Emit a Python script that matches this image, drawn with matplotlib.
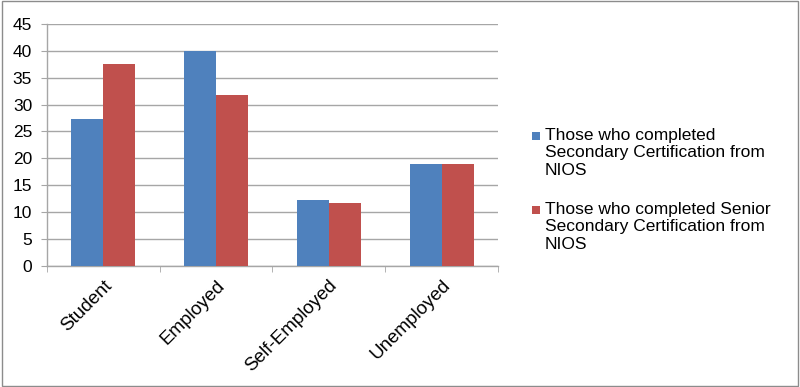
import numpy as np
import matplotlib
matplotlib.use('Agg')
from matplotlib import pyplot as plt, patches as pat

plt.rcParams['font.family'] = ['Liberation Sans', 'DejaVu Sans']

categories = ['Student', 'Employed', 'Self-Employed', 'Unemployed']
secondary = [27.4, 40.0, 12.3, 18.9]
senior = [37.5, 31.7, 11.7, 19.0]
labels = ['Those who completed\nSecondary Certification from\nNIOS',
          'Those who completed Senior\nSecondary Certification from\nNIOS']
colors = ['#4F81BD', '#C0504D']

fig = plt.figure(figsize=(8.0, 3.87), dpi=100)
W, H = 800., 387.
ax = fig.add_axes([46.7/W, 1 - 265.7/H, (498 - 46.7)/W, (265.7 - 24)/H])

x = np.arange(len(categories))
w = 0.284
ax.bar(x - w/2, secondary, w, color=colors[0], zorder=3)
ax.bar(x + w/2, senior, w, color=colors[1], zorder=3)

ax.set_xlim(-0.5, len(categories) - 0.5)
ax.set_ylim(0, 45)
ax.set_yticks(range(0, 46, 5))
ax.yaxis.grid(True, color='#a6a6a6', linewidth=1.0, zorder=0)
ax.set_axisbelow(True)

for s in ['top', 'right']:
    ax.spines[s].set_visible(False)
for s in ['left', 'bottom']:
    ax.spines[s].set_color('#a6a6a6')
    ax.spines[s].set_linewidth(1.0)

ax.set_xticks(x)
ax.set_xticklabels(categories, rotation=45, ha='right', va='top',
                   rotation_mode='anchor', fontsize=13.5)
ax.tick_params(axis='x', length=0, pad=8)
# ticks at category boundaries
ax.set_xticks(np.arange(-0.5, len(categories)), minor=True)
ax.tick_params(axis='x', which='minor', length=4, color='#a6a6a6', direction='out')
ax.tick_params(axis='y', length=4, color='#a6a6a6', labelsize=12.5, pad=6.5)

# legend drawn by hand: square marker next to the first line of each entry
for i, (lab, c) in enumerate(zip(labels, colors)):
    ytop = 131 + i * 74
    fig.add_artist(pat.Rectangle((532/W, 1 - (ytop + 9)/H), 8/W, 8/H,
                                 transform=fig.transFigure, facecolor=c, edgecolor='none'))
    fig.text(545/W, 1 - (ytop - 3)/H, lab, fontsize=12.5, va='top', ha='left',
             linespacing=1.2)

fig.add_artist(pat.Rectangle((0.003, 0.003), 0.994, 0.994, transform=fig.transFigure,
                             fill=False, edgecolor='#8c8c8c', linewidth=1.0))

fig.savefig('out.png', dpi=100)
